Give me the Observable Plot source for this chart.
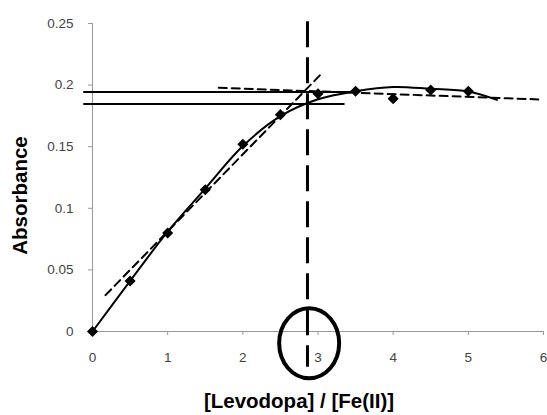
<!DOCTYPE html>
<html>
<head>
<meta charset="utf-8">
<script src="https://cdn.jsdelivr.net/npm/d3@7"></script>
<script src="https://cdn.jsdelivr.net/npm/@observablehq/plot@0.6"></script>
<style>
  html, body { margin: 0; padding: 0; background: #fff; }
  svg { overflow: visible; }
</style>
</head>
<body>
<div id="chart"></div>
<script>
// Measured points
const ratio = [0, 0.5, 1, 1.5, 2, 2.5, 3, 3.5, 4, 4.5, 5];
const absorbance = [0, 0.041, 0.080, 0.115, 0.152, 0.176, 0.193, 0.195, 0.189, 0.196, 0.195];

// Smooth trend curve
const fitX = [0, 0.5, 1, 1.5, 2, 2.5, 3, 3.5, 4, 4.5, 5, 5.38];
const fitY = [0, 0.041, 0.081, 0.116, 0.1505, 0.1748, 0.1885, 0.1950, 0.1985, 0.1970, 0.1948, 0.1880];

// Dashed tangent lines (endpoints)
const steepX = [0.173, 3.05];
const steepY = [0.0295, 0.2095];
const flatX = [1.68, 5.93];
const flatY = [0.1978, 0.1884];

// Horizontal solid reference lines
const hLevels = [0.1943, 0.1846];
const hStart = [-0.116, -0.116];
const hEnd = [3.45, 3.36];

// Vertical dashed line at stoichiometric ratio
const vX = 2.86;
const vTop = 0.2515;
const vBottom = -0.029;

// Circle highlight around ~3
const circleX = 2.889;
const circleY = -0.010;

const xTicks = [0, 1, 2, 3, 4, 5, 6];
const yTicks = [0, 0.05, 0.1, 0.15, 0.2, 0.25];
const xLabel = "[Levodopa] / [Fe(II)]";
const yLabel = "Absorbance";

const points = ratio.map((x, i) => ({x, y: absorbance[i]}));
const fit = fitX.map((x, i) => ({x, y: fitY[i]}));
const steep = steepX.map((x, i) => ({x, y: steepY[i]}));
const flat = flatX.map((x, i) => ({x, y: flatY[i]}));
const hLines = hLevels.map((y, i) => ({x1: hStart[i], x2: hEnd[i], y}));

const FONT = "Liberation Sans, Arial, sans-serif";

const ellipseMark = (index, scales) => {
  const el = document.createElementNS("http://www.w3.org/2000/svg", "ellipse");
  el.setAttribute("cx", scales.x(circleX));
  el.setAttribute("cy", scales.y(circleY));
  el.setAttribute("rx", 30);
  el.setAttribute("ry", 35);
  el.setAttribute("fill", "none");
  el.setAttribute("stroke", "#000");
  el.setAttribute("stroke-width", 4);
  return el;
};

const chart = Plot.plot({
  width: 547,
  height: 415,
  marginLeft: 92,
  marginRight: 4,
  marginTop: 23,
  marginBottom: 84,
  style: {fontFamily: FONT, background: "#fff", overflow: "visible"},
  x: {domain: [0, 6]},
  y: {domain: [0, 0.25]},
  marks: [
    Plot.ruleY([0], {x1: 0, x2: 6, stroke: "#999", strokeWidth: 1}),
    Plot.ruleX([0], {y1: 0, y2: 0.25, stroke: "#999", strokeWidth: 1}),
    Plot.axisX({ticks: xTicks, tickSize: 4, tickPadding: 17, stroke: "#999", fill: "#444", fontSize: 13.5, label: null, tickFormat: d => String(d)}),
    Plot.axisY({ticks: yTicks, tickSize: 4, tickPadding: 15, stroke: "#999", fill: "#444", fontSize: 13.5, label: null, tickFormat: d => String(d)}),
    Plot.ruleY(hLines, {x1: "x1", x2: "x2", y: "y", stroke: "#000", strokeWidth: 2}),
    Plot.line(steep, {x: "x", y: "y", stroke: "#000", strokeWidth: 2, strokeDasharray: "8,5"}),
    Plot.line(flat, {x: "x", y: "y", stroke: "#000", strokeWidth: 2, strokeDasharray: "8,5"}),
    Plot.line(fit, {x: "x", y: "y", stroke: "#000", strokeWidth: 2, curve: "catmull-rom"}),
    Plot.ruleX([vX], {y1: vTop, y2: vBottom, stroke: "#000", strokeWidth: 3, strokeDasharray: "26,10"}),
    Plot.dot(points, {x: "x", y: "y", symbol: "diamond2", r: 5, fill: "#000", stroke: "none"}),
    ellipseMark,
    Plot.text([yLabel], {frameAnchor: "left", dx: -72, dy: 18, rotate: -90, text: d => d, fontSize: 20.5, fontWeight: "bold", fill: "#000", textAnchor: "middle", lineAnchor: "middle"}),
    Plot.text([xLabel], {frameAnchor: "bottom", dx: -19, dy: 70, text: d => d, fontSize: 20.5, fontWeight: "bold", fill: "#000", textAnchor: "middle", lineAnchor: "middle"})
  ]
});

document.getElementById("chart").appendChild(chart);
</script>
</body>
</html>
